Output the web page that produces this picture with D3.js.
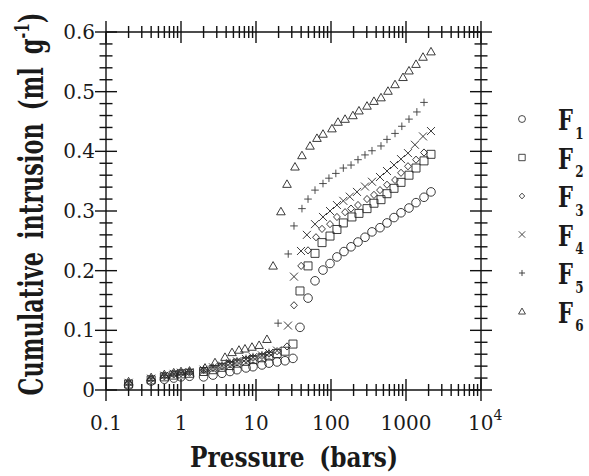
<!DOCTYPE html>
<html>
<head>
<meta charset="utf-8">
<script src="https://cdn.jsdelivr.net/npm/d3@7"></script>
<style>
  body { margin: 0; background: #fff; }
  text { font-family: "DejaVu Serif", serif; fill: #1a1a1a; }
</style>
</head>
<body>
<script>
// pressure (bars) and cumulative intrusion (ml/g)
const f1P = [0.2,0.4,0.6,0.8,1.0,1.3, 2.0,2.67,3.52,4.5,5.58,7.36,9.12,12.0,14.9,19.1,24.4,31.1,
             38.6,49.4,61.2,78.2,97,120,149,185,229,284,352,450,558,692,858,1096,1360,1738,2154];
const f1V = [0.008,0.015,0.018,0.020,0.022,0.023, 0.022,0.025,0.028,0.031,0.034,0.037,0.039,0.042,0.045,0.047,0.049,0.053,
             0.105,0.154,0.183,0.201,0.212,0.223,0.232,0.240,0.248,0.256,0.265,0.272,0.280,0.289,0.297,0.305,0.314,0.323,0.332];

const f2P = [0.2,0.4,0.6,0.8,1.0,1.3, 2.0,2.67,3.52,4.5,5.58,7.36,9.12,12.0,14.9,19.1,24.4,31.1,
             38.6,49.4,61.2,75.9,97,120,146,190,236,302,374,464,558,692,858,1096,1360,1738,2154];
const f2V = [0.010,0.017,0.022,0.025,0.027,0.028, 0.031,0.034,0.038,0.041,0.045,0.048,0.051,0.054,0.057,0.061,0.065,0.077,
             0.166,0.208,0.229,0.247,0.258,0.269,0.280,0.290,0.296,0.304,0.313,0.319,0.329,0.338,0.348,0.360,0.372,0.384,0.395];

const f3P = [0.2,0.4,0.6,0.8,1.0,1.3, 2.0,2.67,3.52,4.5,5.58,7.36,9.12,12.0,14.9,19.1,25.9,
             32.1,40.0,49.4,63.1,75.9,97,120,154,185,229,302,374,450,558,714,858,1063,1360,1738];
const f3V = [0.011,0.018,0.023,0.026,0.028,0.029, 0.033,0.037,0.040,0.044,0.047,0.051,0.054,0.057,0.061,0.065,0.073,
             0.142,0.208,0.234,0.256,0.270,0.278,0.290,0.298,0.304,0.310,0.320,0.327,0.335,0.344,0.352,0.364,0.375,0.386,0.398];

const f4P = [0.2,0.4,0.6,0.8,1.0,1.3, 2.0,2.67,3.52,4.5,5.58,7.36,9.12,12.0,14.9,19.1,
             26.7,32.1,39.8,47.7,61.2,78.2,97,120,146,178,222,284,352,450,558,692,858,1063,1316,1686,2154];
const f4V = [0.012,0.019,0.024,0.027,0.029,0.030, 0.034,0.038,0.041,0.045,0.048,0.052,0.055,0.058,0.062,0.066,
             0.108,0.190,0.233,0.260,0.278,0.290,0.300,0.310,0.317,0.324,0.332,0.341,0.349,0.357,0.367,0.377,0.387,0.397,0.411,0.425,0.434];

const f5P = [0.2,0.4,0.6,0.8,1.0,1.3, 2.0,2.67,3.52,4.5,5.58,7.36,9.12,12.0,14.9,
             19.7,26.9,32.1,41.0,49.4,61.2,78.2,93.9,116,146,185,229,284,352,464,558,714,880,1096,1396,1738];
const f5V = [0.012,0.019,0.024,0.027,0.029,0.031, 0.035,0.038,0.042,0.046,0.049,0.053,0.056,0.059,0.063,
             0.112,0.228,0.275,0.304,0.320,0.335,0.346,0.355,0.363,0.372,0.377,0.386,0.394,0.401,0.409,0.420,0.430,0.442,0.454,0.466,0.482];

const f6P = [0.2,0.4,0.6,0.8,1.0,1.3, 2.09,2.84,3.86,4.79,5.93,7.13,8.84,11.0,14.0,
             16.9,21.5,25.9,33.1,41.0,52.5,65.0,78.2,103,124,154,196,236,302,374,464,575,714,912,1096,1360,1686,2154];
const f6V = [0.014,0.021,0.026,0.029,0.031,0.032, 0.037,0.046,0.055,0.063,0.067,0.069,0.072,0.075,0.085,
             0.208,0.299,0.345,0.374,0.393,0.409,0.422,0.429,0.438,0.449,0.454,0.460,0.468,0.476,0.484,0.490,0.501,0.512,0.524,0.535,0.546,0.558,0.567];

const seriesNames = ["1","2","3","4","5","6"];
const seriesShapes = ["circle","square","diamond","times","plus","triangle"];
const xTickLabels = ["0.1","1","10","100","1000"];
const yTickLabels = ["0","0.1","0.2","0.3","0.4","0.5","0.6"];

const width = 589, height = 476;
const x = d3.scaleLog().domain([0.1, 1e4]).range([106, 481]);
const y = d3.scaleLinear().domain([0, 0.6]).range([390, 32]);

const svg = d3.select("body").append("svg")
  .attr("width", width).attr("height", height);
svg.append("rect").attr("width", width).attr("height", height).attr("fill", "#fff");

// marker outlines, centred on 0,0
function shape(type, s) {
  switch (type) {
    case "circle": return `M${4.3*s},0A${4.3*s},${4.3*s} 0 1,1 ${-4.3*s},0A${4.3*s},${4.3*s} 0 1,1 ${4.3*s},0Z`;
    case "square": return `M${-4*s},${-4*s}H${4*s}V${4*s}H${-4*s}Z`;
    case "diamond": return `M0,${-3.6*s}L${3.4*s},0L0,${3.6*s}L${-3.4*s},0Z`;
    case "times": return `M${-4*s},${-4*s}L${4*s},${4*s}M${4*s},${-4*s}L${-4*s},${4*s}`;
    case "plus": return `M${-3.8*s},0H${3.8*s}M0,${-3.8*s}V${3.8*s}`;
    case "triangle": return `M0,${-4.3*s}L${4.3*s},${3.2*s}L${-4.3*s},${3.2*s}Z`;
  }
}

const allSeries = [[f1P,f1V],[f2P,f2V],[f3P,f3V],[f4P,f4V],[f5P,f5V],[f6P,f6V]];

// axes frame with ticks crossing the lines
const axisG = svg.append("g").attr("stroke", "#111").attr("stroke-width", 1.4).attr("fill", "none");
const [x0, x1] = x.range(), [yb, yt] = y.range();
axisG.append("line").attr("x1", x0).attr("x2", x1).attr("y1", yb).attr("y2", yb);
axisG.append("line").attr("x1", x0).attr("x2", x1).attr("y1", yt).attr("y2", yt);
axisG.append("line").attr("x1", x0).attr("x2", x0).attr("y1", yb).attr("y2", yt);
axisG.append("line").attr("x1", x1).attr("x2", x1).attr("y1", yb).attr("y2", yt);

const xt = x.ticks();
const isDecade = d => Math.abs(Math.log10(d) - Math.round(Math.log10(d))) < 1e-9;
[yb, yt].forEach(yy => {
  axisG.selectAll(null).data(xt).enter().append("line")
    .attr("x1", d => x(d)).attr("x2", d => x(d))
    .attr("y1", d => yy - (isDecade(d) ? 11 : 6))
    .attr("y2", d => yy + (isDecade(d) ? 11 : 6));
});
const yt30 = y.ticks(30);
const isMajorY = d => Math.abs(d * 10 - Math.round(d * 10)) < 1e-6;
[x0, x1].forEach(xx => {
  axisG.selectAll(null).data(yt30).enter().append("line")
    .attr("y1", d => y(d)).attr("y2", d => y(d))
    .attr("x1", d => xx - (isMajorY(d) ? 11 : 6.5))
    .attr("x2", d => xx + (isMajorY(d) ? 11 : 6.5));
});

// tick labels
svg.append("g").selectAll("text").data(yTickLabels).enter().append("text")
  .attr("x", 95).attr("y", d => y(+d) + 7)
  .attr("text-anchor", "end").attr("font-size", 20)
  .text(d => d);
svg.append("g").selectAll("text").data(xTickLabels).enter().append("text")
  .attr("x", d => x(+d)).attr("y", 430)
  .attr("text-anchor", "middle").attr("font-size", 20)
  .text(d => d);
const e4 = svg.append("text").attr("x", x(1e4) - 13).attr("y", 430).attr("font-size", 20);
e4.append("tspan").text("10");
e4.append("tspan").attr("font-size", 14).attr("dy", -10).text("4");

// squeeze a text to a given advance length (serif here is wider than the original Times)
function fit(sel, len, base) {
  const w = sel.node().getComputedTextLength();
  sel.attr("transform", base + ` scale(${len / w},1)`);
}

// axis titles
const xl = svg.append("text")
  .attr("text-anchor", "middle").attr("font-size", 28).attr("font-weight", "bold")
  .attr("word-spacing", 8)
  .text("Pressure (bars)");
fit(xl, 208, "translate(294,467)");

const yl = svg.append("text")
  .attr("text-anchor", "middle").attr("font-size", 34).attr("font-weight", "bold")
  .attr("word-spacing", 8);
yl.append("tspan").text("Cumulative intrusion (ml g");
yl.append("tspan").attr("font-size", 21).attr("dy", -14).text("-1");
yl.append("tspan").attr("dy", 14).text(")");
fit(yl, 383, "translate(43,204) rotate(-90)");

// data points
allSeries.forEach(([P, V], i) => {
  svg.append("g")
    .attr("fill", "none").attr("stroke", i == 4 ? "#3a3a3a" : "#262626").attr("stroke-width", 0.9)
    .selectAll("path").data(d3.zip(P, V)).enter().append("path")
    .attr("transform", d => `translate(${x(d[0])},${y(d[1])})`)
    .attr("d", shape(seriesShapes[i], 1));
});

// legend
const leg = svg.append("g").selectAll("g").data(seriesNames).enter().append("g")
  .attr("transform", (d, i) => `translate(522,${119 + i * 38.5})`);
leg.append("path").attr("d", (d, i) => shape(seriesShapes[i], 0.8))
  .attr("fill", "none").attr("stroke", "#333").attr("stroke-width", 0.9);
const legText = leg.append("g").attr("transform", "translate(36,0) scale(0.75,1)");
legText.append("text").attr("x", 0).attr("y", 11).attr("font-size", 28).attr("font-weight", "bold").text("F");
legText.append("text").attr("x", 23).attr("y", 20).attr("font-size", 16).attr("font-weight", "bold").text(d => d);
</script>
</body>
</html>
